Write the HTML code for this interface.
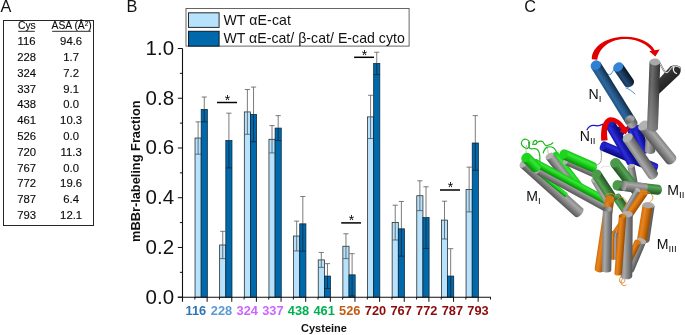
<!DOCTYPE html>
<html><head><meta charset="utf-8"><title>Figure</title>
<style>
html,body{margin:0;padding:0;background:#fff;}
body{width:685px;height:335px;overflow:hidden;}
svg{display:block;font-family:"Liberation Sans",sans-serif;}
</style></head><body>
<svg width="685" height="335" viewBox="0 0 685 335">
<rect width="685" height="335" fill="#fff"/>
<text transform="translate(0.4,12.2) scale(1,1)" font-size="16.3" fill="#111">A</text>
<rect x="3.5" y="20.5" width="90" height="205" fill="#fff" stroke="#262626" stroke-width="1"/>
<text x="26.9" y="29" font-size="10.3" fill="#0a0a0a" stroke="#0a0a0a" stroke-width="0.12" text-anchor="middle">Cys</text>
<line x1="18.2" y1="31.3" x2="34.8" y2="31.3" stroke="#111" stroke-width="0.9"/>
<text x="71.6" y="29" font-size="10.3" fill="#0a0a0a" stroke="#0a0a0a" stroke-width="0.12" text-anchor="middle">ASA (Å<tspan font-size="6.3" dy="-3.2">2</tspan><tspan dy="3.2">)</tspan></text>
<line x1="52.2" y1="31.3" x2="90.8" y2="31.3" stroke="#111" stroke-width="0.9"/>
<g transform="scale(1.1,1)">
<text x="24.18" y="45.1" font-size="10.3" fill="#0a0a0a" stroke="#0a0a0a" stroke-width="0.12" text-anchor="middle">116</text>
<text x="64.64" y="45.1" font-size="10.3" fill="#0a0a0a" stroke="#0a0a0a" stroke-width="0.12" text-anchor="middle">94.6</text>
<text x="24.18" y="60.9" font-size="10.3" fill="#0a0a0a" stroke="#0a0a0a" stroke-width="0.12" text-anchor="middle">228</text>
<text x="64.64" y="60.9" font-size="10.3" fill="#0a0a0a" stroke="#0a0a0a" stroke-width="0.12" text-anchor="middle">1.7</text>
<text x="24.18" y="76.7" font-size="10.3" fill="#0a0a0a" stroke="#0a0a0a" stroke-width="0.12" text-anchor="middle">324</text>
<text x="64.64" y="76.7" font-size="10.3" fill="#0a0a0a" stroke="#0a0a0a" stroke-width="0.12" text-anchor="middle">7.2</text>
<text x="24.18" y="92.6" font-size="10.3" fill="#0a0a0a" stroke="#0a0a0a" stroke-width="0.12" text-anchor="middle">337</text>
<text x="64.64" y="92.6" font-size="10.3" fill="#0a0a0a" stroke="#0a0a0a" stroke-width="0.12" text-anchor="middle">9.1</text>
<text x="24.18" y="108.4" font-size="10.3" fill="#0a0a0a" stroke="#0a0a0a" stroke-width="0.12" text-anchor="middle">438</text>
<text x="64.64" y="108.4" font-size="10.3" fill="#0a0a0a" stroke="#0a0a0a" stroke-width="0.12" text-anchor="middle">0.0</text>
<text x="24.18" y="124.2" font-size="10.3" fill="#0a0a0a" stroke="#0a0a0a" stroke-width="0.12" text-anchor="middle">461</text>
<text x="64.64" y="124.2" font-size="10.3" fill="#0a0a0a" stroke="#0a0a0a" stroke-width="0.12" text-anchor="middle">10.3</text>
<text x="24.18" y="140.0" font-size="10.3" fill="#0a0a0a" stroke="#0a0a0a" stroke-width="0.12" text-anchor="middle">526</text>
<text x="64.64" y="140.0" font-size="10.3" fill="#0a0a0a" stroke="#0a0a0a" stroke-width="0.12" text-anchor="middle">0.0</text>
<text x="24.18" y="155.8" font-size="10.3" fill="#0a0a0a" stroke="#0a0a0a" stroke-width="0.12" text-anchor="middle">720</text>
<text x="64.64" y="155.8" font-size="10.3" fill="#0a0a0a" stroke="#0a0a0a" stroke-width="0.12" text-anchor="middle">11.3</text>
<text x="24.18" y="171.7" font-size="10.3" fill="#0a0a0a" stroke="#0a0a0a" stroke-width="0.12" text-anchor="middle">767</text>
<text x="64.64" y="171.7" font-size="10.3" fill="#0a0a0a" stroke="#0a0a0a" stroke-width="0.12" text-anchor="middle">0.0</text>
<text x="24.18" y="187.5" font-size="10.3" fill="#0a0a0a" stroke="#0a0a0a" stroke-width="0.12" text-anchor="middle">772</text>
<text x="64.64" y="187.5" font-size="10.3" fill="#0a0a0a" stroke="#0a0a0a" stroke-width="0.12" text-anchor="middle">19.6</text>
<text x="24.18" y="203.3" font-size="10.3" fill="#0a0a0a" stroke="#0a0a0a" stroke-width="0.12" text-anchor="middle">787</text>
<text x="64.64" y="203.3" font-size="10.3" fill="#0a0a0a" stroke="#0a0a0a" stroke-width="0.12" text-anchor="middle">6.4</text>
<text x="24.18" y="219.1" font-size="10.3" fill="#0a0a0a" stroke="#0a0a0a" stroke-width="0.12" text-anchor="middle">793</text>
<text x="64.64" y="219.1" font-size="10.3" fill="#0a0a0a" stroke="#0a0a0a" stroke-width="0.12" text-anchor="middle">12.1</text>
</g>
<text transform="translate(126.6,12) scale(1,1)" font-size="16.3" fill="#111">B</text>
<rect x="195.02" y="138.03" width="6.16" height="159.17" fill="#b6e2fd" stroke="#222" stroke-width="0.75"/>
<path d="M198.10 121.87V138.03M195.50 121.87h5.2" stroke="#5a5a5a" stroke-width="0.8" fill="none"/>
<path d="M198.10 138.03V154.20M195.20 154.20h5.8" stroke="#4a4a4a" stroke-width="0.75" fill="none"/>
<rect x="201.18" y="109.43" width="6.16" height="187.77" fill="#0069ab" stroke="#0a2438" stroke-width="0.75"/>
<path d="M204.26 97.00V109.43M201.66 97.00h5.2" stroke="#5a5a5a" stroke-width="0.8" fill="none"/>
<path d="M204.26 109.43V121.87M201.36 121.87h5.8" stroke="#0a2438" stroke-width="0.75" fill="none"/>
<rect x="219.66" y="244.97" width="6.16" height="52.23" fill="#b6e2fd" stroke="#222" stroke-width="0.75"/>
<path d="M222.74 231.29V244.97M220.14 231.29h5.2" stroke="#5a5a5a" stroke-width="0.8" fill="none"/>
<path d="M222.74 244.97V258.65M219.84 258.65h5.8" stroke="#4a4a4a" stroke-width="0.75" fill="none"/>
<rect x="225.82" y="140.52" width="6.16" height="156.68" fill="#0069ab" stroke="#0a2438" stroke-width="0.75"/>
<path d="M228.90 113.16V140.52M226.30 113.16h5.2" stroke="#5a5a5a" stroke-width="0.8" fill="none"/>
<path d="M228.90 140.52V167.88M226.00 167.88h5.8" stroke="#0a2438" stroke-width="0.75" fill="none"/>
<rect x="244.30" y="111.92" width="6.16" height="185.28" fill="#b6e2fd" stroke="#222" stroke-width="0.75"/>
<path d="M247.38 89.54V111.92M244.78 89.54h5.2" stroke="#5a5a5a" stroke-width="0.8" fill="none"/>
<path d="M247.38 111.92V134.30M244.48 134.30h5.8" stroke="#4a4a4a" stroke-width="0.75" fill="none"/>
<rect x="250.46" y="114.41" width="6.16" height="182.79" fill="#0069ab" stroke="#0a2438" stroke-width="0.75"/>
<path d="M253.54 87.05V114.41M250.94 87.05h5.2" stroke="#5a5a5a" stroke-width="0.8" fill="none"/>
<path d="M253.54 114.41V141.76M250.64 141.76h5.8" stroke="#0a2438" stroke-width="0.75" fill="none"/>
<rect x="268.94" y="139.28" width="6.16" height="157.92" fill="#b6e2fd" stroke="#222" stroke-width="0.75"/>
<path d="M272.02 125.60V139.28M269.42 125.60h5.2" stroke="#5a5a5a" stroke-width="0.8" fill="none"/>
<path d="M272.02 139.28V152.95M269.12 152.95h5.8" stroke="#4a4a4a" stroke-width="0.75" fill="none"/>
<rect x="275.10" y="128.08" width="6.16" height="169.12" fill="#0069ab" stroke="#0a2438" stroke-width="0.75"/>
<path d="M278.18 115.65V128.08M275.58 115.65h5.2" stroke="#5a5a5a" stroke-width="0.8" fill="none"/>
<path d="M278.18 128.08V140.52M275.28 140.52h5.8" stroke="#0a2438" stroke-width="0.75" fill="none"/>
<rect x="293.58" y="236.02" width="6.16" height="61.18" fill="#b6e2fd" stroke="#222" stroke-width="0.75"/>
<path d="M296.66 221.10V236.02M294.06 221.10h5.2" stroke="#5a5a5a" stroke-width="0.8" fill="none"/>
<path d="M296.66 236.02V250.94M293.76 250.94h5.8" stroke="#4a4a4a" stroke-width="0.75" fill="none"/>
<rect x="299.74" y="223.83" width="6.16" height="73.37" fill="#0069ab" stroke="#0a2438" stroke-width="0.75"/>
<path d="M302.82 196.48V223.83M300.22 196.48h5.2" stroke="#5a5a5a" stroke-width="0.8" fill="none"/>
<path d="M302.82 223.83V251.19M299.92 251.19h5.8" stroke="#0a2438" stroke-width="0.75" fill="none"/>
<rect x="318.22" y="259.89" width="6.16" height="37.31" fill="#b6e2fd" stroke="#222" stroke-width="0.75"/>
<path d="M321.30 252.43V259.89M318.70 252.43h5.2" stroke="#5a5a5a" stroke-width="0.8" fill="none"/>
<path d="M321.30 259.89V267.36M318.40 267.36h5.8" stroke="#4a4a4a" stroke-width="0.75" fill="none"/>
<rect x="324.38" y="276.06" width="6.16" height="21.14" fill="#0069ab" stroke="#0a2438" stroke-width="0.75"/>
<path d="M327.46 263.63V276.06M324.86 263.63h5.2" stroke="#5a5a5a" stroke-width="0.8" fill="none"/>
<path d="M327.46 276.06V288.50M324.56 288.50h5.8" stroke="#0a2438" stroke-width="0.75" fill="none"/>
<rect x="342.86" y="246.22" width="6.16" height="50.98" fill="#b6e2fd" stroke="#222" stroke-width="0.75"/>
<path d="M345.94 233.78V246.22M343.34 233.78h5.2" stroke="#5a5a5a" stroke-width="0.8" fill="none"/>
<path d="M345.94 246.22V258.65M343.04 258.65h5.8" stroke="#4a4a4a" stroke-width="0.75" fill="none"/>
<rect x="349.02" y="274.82" width="6.16" height="22.38" fill="#0069ab" stroke="#0a2438" stroke-width="0.75"/>
<path d="M352.10 253.68V274.82M349.50 253.68h5.2" stroke="#5a5a5a" stroke-width="0.8" fill="none"/>
<path d="M352.10 274.82V295.96M349.20 295.96h5.8" stroke="#0a2438" stroke-width="0.75" fill="none"/>
<rect x="367.50" y="116.89" width="6.16" height="180.31" fill="#b6e2fd" stroke="#222" stroke-width="0.75"/>
<path d="M370.58 95.26V116.89M367.98 95.26h5.2" stroke="#5a5a5a" stroke-width="0.8" fill="none"/>
<path d="M370.58 116.89V138.53M367.68 138.53h5.8" stroke="#4a4a4a" stroke-width="0.75" fill="none"/>
<rect x="373.66" y="63.42" width="6.16" height="233.78" fill="#0069ab" stroke="#0a2438" stroke-width="0.75"/>
<path d="M376.74 52.23V63.42M374.14 52.23h5.2" stroke="#5a5a5a" stroke-width="0.8" fill="none"/>
<path d="M376.74 63.42V74.61M373.84 74.61h5.8" stroke="#0a2438" stroke-width="0.75" fill="none"/>
<rect x="392.14" y="222.59" width="6.16" height="74.61" fill="#b6e2fd" stroke="#222" stroke-width="0.75"/>
<path d="M395.22 205.18V222.59M392.62 205.18h5.2" stroke="#5a5a5a" stroke-width="0.8" fill="none"/>
<path d="M395.22 222.59V240.00M392.32 240.00h5.8" stroke="#4a4a4a" stroke-width="0.75" fill="none"/>
<rect x="398.30" y="228.81" width="6.16" height="68.39" fill="#0069ab" stroke="#0a2438" stroke-width="0.75"/>
<path d="M401.38 201.45V228.81M398.78 201.45h5.2" stroke="#5a5a5a" stroke-width="0.8" fill="none"/>
<path d="M401.38 228.81V256.16M398.48 256.16h5.8" stroke="#0a2438" stroke-width="0.75" fill="none"/>
<rect x="416.78" y="195.73" width="6.16" height="101.47" fill="#b6e2fd" stroke="#222" stroke-width="0.75"/>
<path d="M419.86 180.81V195.73M417.26 180.81h5.2" stroke="#5a5a5a" stroke-width="0.8" fill="none"/>
<path d="M419.86 195.73V210.65M416.96 210.65h5.8" stroke="#4a4a4a" stroke-width="0.75" fill="none"/>
<rect x="422.94" y="217.62" width="6.16" height="79.58" fill="#0069ab" stroke="#0a2438" stroke-width="0.75"/>
<path d="M426.02 186.78V217.62M423.42 186.78h5.2" stroke="#5a5a5a" stroke-width="0.8" fill="none"/>
<path d="M426.02 217.62V248.45M423.12 248.45h5.8" stroke="#0a2438" stroke-width="0.75" fill="none"/>
<rect x="441.42" y="220.10" width="6.16" height="77.10" fill="#b6e2fd" stroke="#222" stroke-width="0.75"/>
<path d="M444.50 201.20V220.10M441.90 201.20h5.2" stroke="#5a5a5a" stroke-width="0.8" fill="none"/>
<path d="M444.50 220.10V239.00M441.60 239.00h5.8" stroke="#4a4a4a" stroke-width="0.75" fill="none"/>
<rect x="447.58" y="276.06" width="6.16" height="21.14" fill="#0069ab" stroke="#0a2438" stroke-width="0.75"/>
<path d="M450.66 248.70V276.06M448.06 248.70h5.2" stroke="#5a5a5a" stroke-width="0.8" fill="none"/>
<path d="M450.66 276.06V297.20" stroke="#0a2438" stroke-width="0.75" fill="none"/>
<rect x="466.06" y="189.51" width="6.16" height="107.69" fill="#b6e2fd" stroke="#222" stroke-width="0.75"/>
<path d="M469.14 167.13V189.51M466.54 167.13h5.2" stroke="#5a5a5a" stroke-width="0.8" fill="none"/>
<path d="M469.14 189.51V211.90M466.24 211.90h5.8" stroke="#4a4a4a" stroke-width="0.75" fill="none"/>
<rect x="472.22" y="143.01" width="6.16" height="154.19" fill="#0069ab" stroke="#0a2438" stroke-width="0.75"/>
<path d="M475.30 115.65V143.01M472.70 115.65h5.2" stroke="#5a5a5a" stroke-width="0.8" fill="none"/>
<path d="M475.30 143.01V170.36M472.40 170.36h5.8" stroke="#0a2438" stroke-width="0.75" fill="none"/>
<path d="M182.5 48.5V301.7M177.8 297.2H491.0" stroke="#111" stroke-width="1.1" fill="none"/>
<line x1="194.82" y1="297.2" x2="194.82" y2="299.5" stroke="#111" stroke-width="1"/>
<line x1="207.14" y1="297.2" x2="207.14" y2="301.8" stroke="#111" stroke-width="1"/>
<line x1="219.46" y1="297.2" x2="219.46" y2="299.5" stroke="#111" stroke-width="1"/>
<line x1="231.78" y1="297.2" x2="231.78" y2="301.8" stroke="#111" stroke-width="1"/>
<line x1="244.10" y1="297.2" x2="244.10" y2="299.5" stroke="#111" stroke-width="1"/>
<line x1="256.42" y1="297.2" x2="256.42" y2="301.8" stroke="#111" stroke-width="1"/>
<line x1="268.74" y1="297.2" x2="268.74" y2="299.5" stroke="#111" stroke-width="1"/>
<line x1="281.06" y1="297.2" x2="281.06" y2="301.8" stroke="#111" stroke-width="1"/>
<line x1="293.38" y1="297.2" x2="293.38" y2="299.5" stroke="#111" stroke-width="1"/>
<line x1="305.70" y1="297.2" x2="305.70" y2="301.8" stroke="#111" stroke-width="1"/>
<line x1="318.02" y1="297.2" x2="318.02" y2="299.5" stroke="#111" stroke-width="1"/>
<line x1="330.34" y1="297.2" x2="330.34" y2="301.8" stroke="#111" stroke-width="1"/>
<line x1="342.66" y1="297.2" x2="342.66" y2="299.5" stroke="#111" stroke-width="1"/>
<line x1="354.98" y1="297.2" x2="354.98" y2="301.8" stroke="#111" stroke-width="1"/>
<line x1="367.30" y1="297.2" x2="367.30" y2="299.5" stroke="#111" stroke-width="1"/>
<line x1="379.62" y1="297.2" x2="379.62" y2="301.8" stroke="#111" stroke-width="1"/>
<line x1="391.94" y1="297.2" x2="391.94" y2="299.5" stroke="#111" stroke-width="1"/>
<line x1="404.26" y1="297.2" x2="404.26" y2="301.8" stroke="#111" stroke-width="1"/>
<line x1="416.58" y1="297.2" x2="416.58" y2="299.5" stroke="#111" stroke-width="1"/>
<line x1="428.90" y1="297.2" x2="428.90" y2="301.8" stroke="#111" stroke-width="1"/>
<line x1="441.22" y1="297.2" x2="441.22" y2="299.5" stroke="#111" stroke-width="1"/>
<line x1="453.54" y1="297.2" x2="453.54" y2="301.8" stroke="#111" stroke-width="1"/>
<line x1="465.86" y1="297.2" x2="465.86" y2="299.5" stroke="#111" stroke-width="1"/>
<line x1="478.18" y1="297.2" x2="478.18" y2="301.8" stroke="#111" stroke-width="1"/>
<line x1="490.50" y1="297.2" x2="490.50" y2="299.5" stroke="#111" stroke-width="1"/>
<line x1="177.8" y1="297.20" x2="182.5" y2="297.20" stroke="#111" stroke-width="1"/>
<text x="174.1" y="303.70" font-size="20.5" text-anchor="end" fill="#111">0.0</text>
<line x1="179.9" y1="272.33" x2="182.5" y2="272.33" stroke="#111" stroke-width="1"/>
<line x1="177.8" y1="247.46" x2="182.5" y2="247.46" stroke="#111" stroke-width="1"/>
<text x="174.1" y="253.96" font-size="20.5" text-anchor="end" fill="#111">0.2</text>
<line x1="179.9" y1="222.59" x2="182.5" y2="222.59" stroke="#111" stroke-width="1"/>
<line x1="177.8" y1="197.72" x2="182.5" y2="197.72" stroke="#111" stroke-width="1"/>
<text x="174.1" y="204.22" font-size="20.5" text-anchor="end" fill="#111">0.4</text>
<line x1="179.9" y1="172.85" x2="182.5" y2="172.85" stroke="#111" stroke-width="1"/>
<line x1="177.8" y1="147.98" x2="182.5" y2="147.98" stroke="#111" stroke-width="1"/>
<text x="174.1" y="154.48" font-size="20.5" text-anchor="end" fill="#111">0.6</text>
<line x1="179.9" y1="123.11" x2="182.5" y2="123.11" stroke="#111" stroke-width="1"/>
<line x1="177.8" y1="98.24" x2="182.5" y2="98.24" stroke="#111" stroke-width="1"/>
<text x="174.1" y="104.74" font-size="20.5" text-anchor="end" fill="#111">0.8</text>
<line x1="179.9" y1="73.37" x2="182.5" y2="73.37" stroke="#111" stroke-width="1"/>
<line x1="177.8" y1="48.50" x2="182.5" y2="48.50" stroke="#111" stroke-width="1"/>
<text x="174.1" y="55.00" font-size="20.5" text-anchor="end" fill="#111">1.0</text>
<text transform="translate(140.4,171.2) rotate(-90)" font-size="12.8" font-weight="bold" text-anchor="middle" fill="#111">mBBr-labeling Fraction</text>
<rect x="186" y="8.5" width="223.1" height="37.6" fill="#fff" stroke="#555" stroke-width="0.9"/>
<rect x="188.5" y="12.8" width="30.6" height="14.6" fill="#b6e2fd" stroke="#2a2a2a" stroke-width="1"/>
<rect x="188.5" y="31.3" width="30.6" height="14.8" fill="#0069ab" stroke="#0a1e30" stroke-width="1"/>
<text x="223.4" y="24.7" font-size="14.1" fill="#111" letter-spacing="0.12">WT αE-cat</text>
<text x="223.4" y="43" font-size="14.1" fill="#111" letter-spacing="0.035">WT αE-cat/ β-cat/ E-cad cyto</text>
<text x="195.90" y="315.3" font-size="12.8" font-weight="bold" text-anchor="middle" fill="#2e75b6">116</text>
<text x="221.55" y="315.3" font-size="12.8" font-weight="bold" text-anchor="middle" fill="#5b9bd5">228</text>
<text x="247.20" y="315.3" font-size="12.8" font-weight="bold" text-anchor="middle" fill="#cc66ff">324</text>
<text x="272.85" y="315.3" font-size="12.8" font-weight="bold" text-anchor="middle" fill="#cc66ff">337</text>
<text x="298.50" y="315.3" font-size="12.8" font-weight="bold" text-anchor="middle" fill="#00b050">438</text>
<text x="324.15" y="315.3" font-size="12.8" font-weight="bold" text-anchor="middle" fill="#00b050">461</text>
<text x="349.80" y="315.3" font-size="12.8" font-weight="bold" text-anchor="middle" fill="#c55a11">526</text>
<text x="375.45" y="315.3" font-size="12.8" font-weight="bold" text-anchor="middle" fill="#8b0a0a">720</text>
<text x="401.10" y="315.3" font-size="12.8" font-weight="bold" text-anchor="middle" fill="#8b0a0a">767</text>
<text x="426.75" y="315.3" font-size="12.8" font-weight="bold" text-anchor="middle" fill="#8b0a0a">772</text>
<text x="452.40" y="315.3" font-size="12.8" font-weight="bold" text-anchor="middle" fill="#8b0a0a">787</text>
<text x="478.05" y="315.3" font-size="12.8" font-weight="bold" text-anchor="middle" fill="#8b0a0a">793</text>
<text x="324" y="331.7" font-size="11" font-weight="bold" text-anchor="middle" fill="#111">Cysteine</text>
<line x1="217" y1="102.5" x2="237" y2="102.5" stroke="#000" stroke-width="1.5"/>
<text x="227.4" y="104.8" font-size="14" text-anchor="middle" fill="#000">*</text>
<line x1="354.1" y1="57.3" x2="374" y2="57.3" stroke="#000" stroke-width="1.5"/>
<text x="364.45" y="59.599999999999994" font-size="14" text-anchor="middle" fill="#000">*</text>
<line x1="341.2" y1="222.9" x2="361" y2="222.9" stroke="#000" stroke-width="1.5"/>
<text x="351.5" y="225.20000000000002" font-size="14" text-anchor="middle" fill="#000">*</text>
<line x1="440" y1="190" x2="460" y2="190" stroke="#000" stroke-width="1.5"/>
<text x="450.4" y="192.3" font-size="14" text-anchor="middle" fill="#000">*</text>
<text transform="translate(524.2,12.2) scale(1,1)" font-size="16.3" fill="#111">C</text>
<defs><linearGradient id="g1" gradientUnits="userSpaceOnUse" x1="631.09" y1="140.22" x2="639.41" y2="136.78"><stop offset="0" stop-color="#1515aa"/><stop offset="0.3" stop-color="#2e2ed8"/><stop offset="0.62" stop-color="#1515aa"/><stop offset="1" stop-color="#09096a"/></linearGradient><linearGradient id="g2" gradientUnits="userSpaceOnUse" x1="635.84" y1="141.32" x2="645.16" y2="137.68"><stop offset="0" stop-color="#1515aa"/><stop offset="0.3" stop-color="#2e2ed8"/><stop offset="0.62" stop-color="#1515aa"/><stop offset="1" stop-color="#09096a"/></linearGradient><linearGradient id="g3" gradientUnits="userSpaceOnUse" x1="645.26" y1="142.67" x2="655.74" y2="143.33"><stop offset="0" stop-color="#838383"/><stop offset="0.3" stop-color="#a8a8a8"/><stop offset="0.62" stop-color="#838383"/><stop offset="1" stop-color="#555555"/></linearGradient><linearGradient id="wedge" gradientUnits="userSpaceOnUse" x1="662" y1="70" x2="674" y2="84"><stop offset="0" stop-color="#444"/><stop offset="0.5" stop-color="#2e2e2e"/><stop offset="1" stop-color="#1e1e1e"/></linearGradient><linearGradient id="g4" gradientUnits="userSpaceOnUse" x1="619.14" y1="77.95" x2="628.06" y2="71.85"><stop offset="0" stop-color="#163250"/><stop offset="0.3" stop-color="#234a75"/><stop offset="0.62" stop-color="#163250"/><stop offset="1" stop-color="#081422"/></linearGradient><linearGradient id="g5" gradientUnits="userSpaceOnUse" x1="608.47" y1="95.75" x2="617.63" y2="90.05"><stop offset="0" stop-color="#22527f"/><stop offset="0.3" stop-color="#2e68a0"/><stop offset="0.62" stop-color="#22527f"/><stop offset="1" stop-color="#122c47"/></linearGradient><linearGradient id="g6" gradientUnits="userSpaceOnUse" x1="630.95" y1="152.40" x2="627.05" y2="161.60"><stop offset="0" stop-color="#1515aa"/><stop offset="0.3" stop-color="#2e2ed8"/><stop offset="0.62" stop-color="#1515aa"/><stop offset="1" stop-color="#09096a"/></linearGradient><linearGradient id="g7" gradientUnits="userSpaceOnUse" x1="616.46" y1="145.63" x2="625.54" y2="140.37"><stop offset="0" stop-color="#1515aa"/><stop offset="0.3" stop-color="#2e2ed8"/><stop offset="0.62" stop-color="#1515aa"/><stop offset="1" stop-color="#09096a"/></linearGradient><linearGradient id="g8" gradientUnits="userSpaceOnUse" x1="626.49" y1="124.67" x2="635.71" y2="119.03"><stop offset="0" stop-color="#838383"/><stop offset="0.3" stop-color="#a8a8a8"/><stop offset="0.62" stop-color="#838383"/><stop offset="1" stop-color="#555555"/></linearGradient><linearGradient id="g9" gradientUnits="userSpaceOnUse" x1="661.92" y1="138.73" x2="652.58" y2="146.27"><stop offset="0" stop-color="#838383"/><stop offset="0.3" stop-color="#a8a8a8"/><stop offset="0.62" stop-color="#838383"/><stop offset="1" stop-color="#555555"/></linearGradient><linearGradient id="g10" gradientUnits="userSpaceOnUse" x1="648.30" y1="94.80" x2="659.10" y2="95.20"><stop offset="0" stop-color="#515151"/><stop offset="0.3" stop-color="#6c6c6c"/><stop offset="0.62" stop-color="#515151"/><stop offset="1" stop-color="#333333"/></linearGradient><linearGradient id="g10f" gradientUnits="userSpaceOnUse" x1="654.9" y1="62.0" x2="652.5" y2="128.0"><stop offset="0.35" stop-color="#a0a0a0" stop-opacity="0"/><stop offset="1" stop-color="#a0a0a0" stop-opacity="0.55"/></linearGradient><linearGradient id="g11" gradientUnits="userSpaceOnUse" x1="635.80" y1="159.49" x2="644.90" y2="153.31"><stop offset="0" stop-color="#838383"/><stop offset="0.3" stop-color="#a8a8a8"/><stop offset="0.62" stop-color="#838383"/><stop offset="1" stop-color="#555555"/></linearGradient><linearGradient id="g12" gradientUnits="userSpaceOnUse" x1="555.35" y1="183.48" x2="547.65" y2="192.02"><stop offset="0" stop-color="#838383"/><stop offset="0.3" stop-color="#a8a8a8"/><stop offset="0.62" stop-color="#838383"/><stop offset="1" stop-color="#555555"/></linearGradient><linearGradient id="g13" gradientUnits="userSpaceOnUse" x1="552.42" y1="181.01" x2="549.58" y2="184.49"><stop offset="0" stop-color="#17c617"/><stop offset="0.3" stop-color="#36e836"/><stop offset="0.62" stop-color="#17c617"/><stop offset="1" stop-color="#0b860b"/></linearGradient><linearGradient id="g14" gradientUnits="userSpaceOnUse" x1="570.32" y1="168.26" x2="563.18" y2="173.74"><stop offset="0" stop-color="#17c617"/><stop offset="0.3" stop-color="#36e836"/><stop offset="0.62" stop-color="#17c617"/><stop offset="1" stop-color="#0b860b"/></linearGradient><linearGradient id="g15" gradientUnits="userSpaceOnUse" x1="564.33" y1="168.02" x2="557.17" y2="173.48"><stop offset="0" stop-color="#838383"/><stop offset="0.3" stop-color="#a8a8a8"/><stop offset="0.62" stop-color="#838383"/><stop offset="1" stop-color="#555555"/></linearGradient><linearGradient id="g16" gradientUnits="userSpaceOnUse" x1="573.41" y1="184.05" x2="569.09" y2="191.95"><stop offset="0" stop-color="#838383"/><stop offset="0.3" stop-color="#a8a8a8"/><stop offset="0.62" stop-color="#838383"/><stop offset="1" stop-color="#555555"/></linearGradient><linearGradient id="g17" gradientUnits="userSpaceOnUse" x1="572.29" y1="178.25" x2="568.71" y2="184.95"><stop offset="0" stop-color="#17c617"/><stop offset="0.3" stop-color="#36e836"/><stop offset="0.62" stop-color="#17c617"/><stop offset="1" stop-color="#0b860b"/></linearGradient><linearGradient id="g18" gradientUnits="userSpaceOnUse" x1="534.75" y1="158.75" x2="527.25" y2="166.25"><stop offset="0" stop-color="#17c617"/><stop offset="0.3" stop-color="#36e836"/><stop offset="0.62" stop-color="#17c617"/><stop offset="1" stop-color="#0b860b"/></linearGradient><linearGradient id="g19" gradientUnits="userSpaceOnUse" x1="581.33" y1="162.39" x2="577.67" y2="170.61"><stop offset="0" stop-color="#838383"/><stop offset="0.3" stop-color="#a8a8a8"/><stop offset="0.62" stop-color="#838383"/><stop offset="1" stop-color="#555555"/></linearGradient><linearGradient id="g20" gradientUnits="userSpaceOnUse" x1="580.27" y1="156.12" x2="576.23" y2="165.28"><stop offset="0" stop-color="#17c617"/><stop offset="0.3" stop-color="#36e836"/><stop offset="0.62" stop-color="#17c617"/><stop offset="1" stop-color="#0b860b"/></linearGradient><linearGradient id="g21" gradientUnits="userSpaceOnUse" x1="629.06" y1="174.65" x2="635.94" y2="173.35"><stop offset="0" stop-color="#838383"/><stop offset="0.3" stop-color="#a8a8a8"/><stop offset="0.62" stop-color="#838383"/><stop offset="1" stop-color="#555555"/></linearGradient><linearGradient id="g22" gradientUnits="userSpaceOnUse" x1="629.66" y1="173.19" x2="621.34" y2="179.61"><stop offset="0" stop-color="#3a7f3a"/><stop offset="0.3" stop-color="#58a458"/><stop offset="0.62" stop-color="#3a7f3a"/><stop offset="1" stop-color="#215221"/></linearGradient><linearGradient id="g23" gradientUnits="userSpaceOnUse" x1="637.80" y1="182.53" x2="636.70" y2="192.47"><stop offset="0" stop-color="#3a7f3a"/><stop offset="0.3" stop-color="#58a458"/><stop offset="0.62" stop-color="#3a7f3a"/><stop offset="1" stop-color="#215221"/></linearGradient><linearGradient id="g24" gradientUnits="userSpaceOnUse" x1="635.07" y1="182.03" x2="633.93" y2="191.97"><stop offset="0" stop-color="#838383"/><stop offset="0.3" stop-color="#a8a8a8"/><stop offset="0.62" stop-color="#838383"/><stop offset="1" stop-color="#555555"/></linearGradient><linearGradient id="g25" gradientUnits="userSpaceOnUse" x1="598.15" y1="192.90" x2="606.35" y2="188.10"><stop offset="0" stop-color="#838383"/><stop offset="0.3" stop-color="#a8a8a8"/><stop offset="0.62" stop-color="#838383"/><stop offset="1" stop-color="#555555"/></linearGradient><linearGradient id="g26" gradientUnits="userSpaceOnUse" x1="599.46" y1="187.98" x2="607.84" y2="182.52"><stop offset="0" stop-color="#3a7f3a"/><stop offset="0.3" stop-color="#58a458"/><stop offset="0.62" stop-color="#3a7f3a"/><stop offset="1" stop-color="#215221"/></linearGradient><linearGradient id="g27" gradientUnits="userSpaceOnUse" x1="617.84" y1="206.62" x2="625.16" y2="201.38"><stop offset="0" stop-color="#3a7f3a"/><stop offset="0.3" stop-color="#58a458"/><stop offset="0.62" stop-color="#3a7f3a"/><stop offset="1" stop-color="#215221"/></linearGradient><linearGradient id="g28" gradientUnits="userSpaceOnUse" x1="628.92" y1="199.47" x2="634.08" y2="202.53"><stop offset="0" stop-color="#838383"/><stop offset="0.3" stop-color="#a8a8a8"/><stop offset="0.62" stop-color="#838383"/><stop offset="1" stop-color="#555555"/></linearGradient><linearGradient id="g29" gradientUnits="userSpaceOnUse" x1="626.35" y1="211.39" x2="632.95" y2="215.91"><stop offset="0" stop-color="#cd6d0c"/><stop offset="0.3" stop-color="#e8851f"/><stop offset="0.62" stop-color="#cd6d0c"/><stop offset="1" stop-color="#8f4a05"/></linearGradient><linearGradient id="g30" gradientUnits="userSpaceOnUse" x1="641.16" y1="221.79" x2="652.04" y2="223.41"><stop offset="0" stop-color="#838383"/><stop offset="0.3" stop-color="#a8a8a8"/><stop offset="0.62" stop-color="#838383"/><stop offset="1" stop-color="#555555"/></linearGradient><linearGradient id="g31" gradientUnits="userSpaceOnUse" x1="639.86" y1="221.90" x2="649.74" y2="223.50"><stop offset="0" stop-color="#cd6d0c"/><stop offset="0.3" stop-color="#e8851f"/><stop offset="0.62" stop-color="#cd6d0c"/><stop offset="1" stop-color="#8f4a05"/></linearGradient><linearGradient id="g32" gradientUnits="userSpaceOnUse" x1="631.12" y1="253.41" x2="639.88" y2="257.09"><stop offset="0" stop-color="#838383"/><stop offset="0.3" stop-color="#a8a8a8"/><stop offset="0.62" stop-color="#838383"/><stop offset="1" stop-color="#555555"/></linearGradient><linearGradient id="g33" gradientUnits="userSpaceOnUse" x1="629.85" y1="250.50" x2="635.95" y2="253.50"><stop offset="0" stop-color="#cd6d0c"/><stop offset="0.3" stop-color="#e8851f"/><stop offset="0.62" stop-color="#cd6d0c"/><stop offset="1" stop-color="#8f4a05"/></linearGradient><linearGradient id="g34" gradientUnits="userSpaceOnUse" x1="611.20" y1="245.48" x2="614.40" y2="245.52"><stop offset="0" stop-color="#cd6d0c"/><stop offset="0.3" stop-color="#e8851f"/><stop offset="0.62" stop-color="#cd6d0c"/><stop offset="1" stop-color="#8f4a05"/></linearGradient><linearGradient id="g35" gradientUnits="userSpaceOnUse" x1="614.20" y1="245.48" x2="617.40" y2="245.52"><stop offset="0" stop-color="#838383"/><stop offset="0.3" stop-color="#a8a8a8"/><stop offset="0.62" stop-color="#838383"/><stop offset="1" stop-color="#555555"/></linearGradient><linearGradient id="g36" gradientUnits="userSpaceOnUse" x1="600.05" y1="233.32" x2="608.95" y2="234.68"><stop offset="0" stop-color="#cd6d0c"/><stop offset="0.3" stop-color="#e8851f"/><stop offset="0.62" stop-color="#cd6d0c"/><stop offset="1" stop-color="#8f4a05"/></linearGradient><linearGradient id="g37" gradientUnits="userSpaceOnUse" x1="602.30" y1="239.31" x2="611.80" y2="239.49"><stop offset="0" stop-color="#838383"/><stop offset="0.3" stop-color="#a8a8a8"/><stop offset="0.62" stop-color="#838383"/><stop offset="1" stop-color="#555555"/></linearGradient><linearGradient id="g38" gradientUnits="userSpaceOnUse" x1="621.00" y1="245.15" x2="632.50" y2="245.25"><stop offset="0" stop-color="#838383"/><stop offset="0.3" stop-color="#a8a8a8"/><stop offset="0.62" stop-color="#838383"/><stop offset="1" stop-color="#555555"/></linearGradient><linearGradient id="g39" gradientUnits="userSpaceOnUse" x1="616.66" y1="244.46" x2="624.14" y2="245.04"><stop offset="0" stop-color="#cd6d0c"/><stop offset="0.3" stop-color="#e8851f"/><stop offset="0.62" stop-color="#cd6d0c"/><stop offset="1" stop-color="#8f4a05"/></linearGradient></defs>
<path d="M626.34 128.72L635.84 151.72A4.50 2.48 157.6 0 0 644.16 148.28L634.66 125.28Z" fill="url(#g1)"/>
<ellipse cx="630.50" cy="127.00" rx="4.50" ry="2.48" transform="rotate(157.6 630.50 127.00)" fill="url(#g1)"/>
<path d="M631.34 129.82L640.34 152.82A5.00 2.75 158.6 0 0 649.66 149.18L640.66 126.18Z" fill="url(#g2)"/>
<ellipse cx="636.00" cy="128.00" rx="5.00" ry="2.75" transform="rotate(158.6 636.00 128.00)" fill="#2020c4"/>
<path d="M645.76 134.67L644.76 150.67A5.25 2.89 183.6 0 0 655.24 151.33L656.24 135.33Z" fill="url(#g3)"/>
<ellipse cx="651.00" cy="135.00" rx="5.25" ry="2.89" transform="rotate(183.6 651.00 135.00)" fill="url(#g3)"/>
<path d="M658.5 79.5L670.5 66.3C673.5 64.8 678 65.5 680.3 67.8C681.3 70.5 680.5 73 679 75L658.8 94Z" fill="url(#wedge)"/>
<path d="M613.74 70.05L624.54 85.85A5.40 4.32 145.6 0 0 633.46 79.75L622.66 63.95Z" fill="url(#g4)"/>
<ellipse cx="618.20" cy="67.00" rx="5.40" ry="4.32" transform="rotate(145.6 618.20 67.00)" fill="#3585d6"/>
<path d="M626 88C629 89 632 91 635 94" fill="none" stroke="#3a86d4" stroke-width="0.9" stroke-linecap="round" stroke-linejoin="round"/>
<path d="M601 66C606 70 607 77 611 74C613 72 614 68 616 66" fill="none" stroke="#3a86d4" stroke-width="0.9" stroke-linecap="round" stroke-linejoin="round"/>
<path d="M591.22 68.05L625.72 123.45A5.40 4.59 148.1 0 0 634.88 117.75L600.38 62.35Z" fill="url(#g5)"/>
<ellipse cx="595.80" cy="65.20" rx="5.40" ry="4.59" transform="rotate(148.1 595.80 65.20)" fill="#2f7fd2"/>
<path d="M587 129.8C588.5 126.5 592 124.8 596 125.6C598.5 126.2 600.5 125.4 602.5 124.2C603.5 125.5 603 127.5 604 129" fill="none" stroke="#1a1ac8" stroke-width="1.25" stroke-linecap="round" stroke-linejoin="round"/>
<path d="M604.95 141.40L656.95 163.40A5.00 2.75 112.9 0 1 653.05 172.60L601.05 150.60Z" fill="url(#g6)"/>
<ellipse cx="603.00" cy="146.00" rx="5.00" ry="2.75" transform="rotate(112.9 603.00 146.00)" fill="#2020c4"/>
<ellipse cx="620" cy="131.5" rx="4.6" ry="5.2" fill="#1414a4"/>
<path d="M605.46 126.63L627.46 164.63A5.25 2.89 149.9 0 0 636.54 159.37L614.54 121.37Z" fill="url(#g7)"/>
<ellipse cx="610.00" cy="124.00" rx="5.25" ry="2.89" transform="rotate(149.9 610.00 124.00)" fill="#2020c4"/>
<path d="M624.99 122.22L627.99 127.12A5.40 3.78 148.5 0 0 637.21 121.48L634.21 116.58Z" fill="url(#g8)"/>
<ellipse cx="629.60" cy="119.40" rx="5.40" ry="3.78" transform="rotate(148.5 629.60 119.40)" fill="url(#g8)"/>
<path d="M648.17 121.73L675.67 155.73A6.00 4.20 141.0 0 1 666.33 163.27L638.83 129.27Z" fill="url(#g9)"/>
<ellipse cx="643.50" cy="125.50" rx="6.00" ry="4.20" transform="rotate(141.0 643.50 125.50)" fill="#b2b2b2"/>
<path d="M649.50 61.80L647.10 127.80A5.40 3.51 182.1 0 0 657.90 128.20L660.30 62.20Z" fill="url(#g10)"/>
<path d="M649.50 61.80L647.10 127.80A5.40 3.51 182.1 0 0 657.90 128.20L660.30 62.20Z" fill="url(#g10f)"/>
<ellipse cx="654.90" cy="62.00" rx="5.40" ry="3.51" transform="rotate(182.1 654.90 62.00)" fill="#a8a8a8"/>
<path d="M660 63.5C662 66 663 71 666 72.5C669 73.5 670 68 673 66.5C676 65.5 679 66.5 680 68" fill="none" stroke="#555" stroke-width="1.6" stroke-linecap="round" stroke-linejoin="round"/>
<path d="M660 63.5C662 66 663 71 666 72.5C669 73.5 670 68 673 66.5C676 65.5 679 66.5 680 68" fill="none" stroke="#f0f0f0" stroke-width="0.9" stroke-linecap="round" stroke-linejoin="round"/>
<path d="M674 67C672.5 69 673.5 72.5 676.5 73.5" fill="none" stroke="#eee" stroke-width="1.3" stroke-linecap="round" stroke-linejoin="round"/>
<path d="M623.15 140.89L648.45 178.09A5.50 3.85 145.8 0 0 657.55 171.91L632.25 134.71Z" fill="url(#g11)"/>
<ellipse cx="627.70" cy="137.80" rx="5.50" ry="3.85" transform="rotate(145.8 627.70 137.80)" fill="#b2b2b2"/>
<path d="M521.3 143.6C521.5 140 524 138.8 526.2 139.3C529 140 530.2 142.5 529.4 145C528.8 147.5 527.5 149.2 526.5 148.5C524 147.5 521.8 146 521.3 143.6" fill="none" stroke="#14b814" stroke-width="1.15" stroke-linecap="round" stroke-linejoin="round"/>
<path d="M528.6 142.2C528.4 145 528.6 148 530.5 148.8C532.5 149.3 534.5 148 536.5 149C538.5 150 539.6 153 539.8 156C540 158.5 540 160 539.7 161.5" fill="none" stroke="#14b814" stroke-width="1.15" stroke-linecap="round" stroke-linejoin="round"/>
<path d="M533 143.5C533 141 535.5 139.6 536.6 141C537.6 142.6 536.5 144.6 534.6 144.4C533.6 144.3 533 144 532.6 144.4" fill="none" stroke="#14b814" stroke-width="1.15" stroke-linecap="round" stroke-linejoin="round"/>
<path d="M537.5 142.4C539 141.2 541 140.8 542.4 141.6C544 142.6 544.2 145 546 145.6C547.8 146 549.5 144.8 550.8 144.2C551.6 143.8 552.3 143.2 552.8 142.8" fill="none" stroke="#14b814" stroke-width="1.15" stroke-linecap="round" stroke-linejoin="round"/>
<path d="M543.2 153C544 150.5 545 148.2 546.8 147.4C548.8 146.6 551.5 146.6 553.4 147.8C555.5 149.2 556.6 152 557.2 154.5C557.5 155.8 557.8 157 558.2 158" fill="none" stroke="#14b814" stroke-width="1.15" stroke-linecap="round" stroke-linejoin="round"/>
<path d="M526.5 145.5C526.2 148 526 151 526 153.5M528.8 143C528.6 144.5 528.3 146 528.1 147M547.5 148.5C547.8 151 548.3 153.5 548.6 155" fill="none" stroke="#aaa" stroke-width="0.7" stroke-linecap="round" stroke-linejoin="round"/>
<path d="M527.85 158.73L582.85 208.23A5.75 3.16 132.0 0 1 575.15 216.77L520.15 167.27Z" fill="url(#g12)"/>
<ellipse cx="524.00" cy="163.00" rx="5.75" ry="3.16" transform="rotate(132.0 524.00 163.00)" fill="#b2b2b2"/>
<path d="M537.42 168.76L567.42 193.26A2.25 1.24 129.2 0 1 564.58 196.74L534.58 172.24Z" fill="url(#g13)"/>
<ellipse cx="536.00" cy="170.50" rx="2.25" ry="1.24" transform="rotate(129.2 536.00 170.50)" fill="url(#g13)"/>
<path d="M558.07 152.26L582.57 184.26A4.50 2.48 142.6 0 1 575.43 189.74L550.93 157.74Z" fill="url(#g14)"/>
<ellipse cx="554.50" cy="155.00" rx="4.50" ry="2.48" transform="rotate(142.6 554.50 155.00)" fill="#1fd41f"/>
<path d="M553.08 153.27L575.58 182.77A4.50 2.48 142.7 0 1 568.42 188.23L545.92 158.73Z" fill="url(#g15)"/>
<ellipse cx="549.50" cy="156.00" rx="4.50" ry="2.48" transform="rotate(142.7 549.50 156.00)" fill="#b2b2b2"/>
<path d="M539.66 165.55L607.16 202.55A4.50 2.48 118.7 0 1 602.84 210.45L535.34 173.45Z" fill="url(#g16)"/>
<ellipse cx="537.50" cy="169.50" rx="4.50" ry="2.48" transform="rotate(118.7 537.50 169.50)" fill="#b2b2b2"/>
<path d="M536.79 159.25L607.79 197.25A3.80 2.09 118.2 0 1 604.21 203.95L533.21 165.95Z" fill="url(#g17)"/>
<ellipse cx="535.00" cy="162.60" rx="3.80" ry="2.09" transform="rotate(118.2 535.00 162.60)" fill="url(#g17)"/>
<path d="M529.75 153.75L539.75 163.75A5.30 4.24 135.0 0 1 532.25 171.25L522.25 161.25Z" fill="url(#g18)"/>
<ellipse cx="526.00" cy="157.50" rx="5.30" ry="4.24" transform="rotate(135.0 526.00 157.50)" fill="#1fd41f"/>
<path d="M567.83 156.39L594.83 168.39A4.50 2.48 114.0 0 1 591.17 176.61L564.17 164.61Z" fill="url(#g19)"/>
<ellipse cx="566.00" cy="160.50" rx="4.50" ry="2.48" transform="rotate(114.0 566.00 160.50)" fill="#b2b2b2"/>
<path d="M565.52 149.62L595.02 162.62A5.00 4.00 113.8 0 1 590.98 171.78L561.48 158.78Z" fill="url(#g20)"/>
<ellipse cx="563.50" cy="154.20" rx="5.00" ry="4.00" transform="rotate(113.8 563.50 154.20)" fill="#1fd41f"/>
<path d="M601 150C601.5 156 602 160 600 163C598 165 596 165 595 166" fill="none" stroke="#999" stroke-width="0.9" stroke-linecap="round" stroke-linejoin="round"/>
<path d="M627.56 166.65L630.56 182.65A3.50 1.93 169.4 0 0 637.44 181.35L634.44 165.35Z" fill="url(#g21)"/>
<ellipse cx="631.00" cy="166.00" rx="3.50" ry="1.93" transform="rotate(169.4 631.00 166.00)" fill="#b2b2b2"/>
<path d="M619.16 159.59L640.16 186.79A5.25 4.46 142.3 0 1 631.84 193.21L610.84 166.01Z" fill="url(#g22)"/>
<ellipse cx="615.00" cy="162.80" rx="5.25" ry="4.46" transform="rotate(142.3 615.00 162.80)" fill="#4a9a4a"/>
<path d="M617.05 180.23L658.55 184.83A5.00 4.00 96.3 0 1 657.45 194.77L615.95 190.17Z" fill="url(#g23)"/>
<ellipse cx="616.50" cy="185.20" rx="5.00" ry="4.00" transform="rotate(96.3 616.50 185.20)" fill="#4a9a4a"/>
<path d="M624.57 180.83L645.57 183.23A5.00 2.75 96.5 0 1 644.43 193.17L623.43 190.77Z" fill="url(#g24)"/>
<ellipse cx="624.00" cy="185.80" rx="5.00" ry="2.75" transform="rotate(96.5 624.00 185.80)" fill="url(#g24)"/>
<path d="M591.40 181.40L604.90 204.40A4.75 2.61 149.6 0 0 613.10 199.60L599.60 176.60Z" fill="url(#g25)"/>
<ellipse cx="595.50" cy="179.00" rx="4.75" ry="2.61" transform="rotate(149.6 595.50 179.00)" fill="#b2b2b2"/>
<path d="M592.11 176.73L606.81 199.23A5.00 4.25 146.8 0 0 615.19 193.77L600.49 171.27Z" fill="url(#g26)"/>
<ellipse cx="596.30" cy="174.00" rx="5.00" ry="4.25" transform="rotate(146.8 596.30 174.00)" fill="#4a9a4a"/>
<path d="M601 168C604 164 607 168 610 166" fill="none" stroke="#ddd" stroke-width="0.9" stroke-linecap="round" stroke-linejoin="round"/>
<path d="M612.84 199.62L622.84 213.62A4.50 2.48 144.5 0 0 630.16 208.38L620.16 194.38Z" fill="url(#g27)"/>
<ellipse cx="616.50" cy="197.00" rx="4.50" ry="2.48" transform="rotate(144.5 616.50 197.00)" fill="url(#g27)"/>
<path d="M635.42 188.47L622.42 210.47A3.00 1.65 210.6 0 0 627.58 213.53L640.58 191.53Z" fill="url(#g28)"/>
<ellipse cx="638.00" cy="190.00" rx="3.00" ry="1.65" transform="rotate(210.6 638.00 190.00)" fill="#b2b2b2"/>
<path d="M641.00 190.04L611.70 232.74A4.00 2.20 214.5 0 0 618.30 237.26L647.60 194.56Z" fill="url(#g29)"/>
<ellipse cx="644.30" cy="192.30" rx="4.00" ry="2.20" transform="rotate(214.5 644.30 192.30)" fill="#d87812"/>
<path d="M643.76 204.39L638.56 239.19A5.50 3.03 188.5 0 0 649.44 240.81L654.64 206.01Z" fill="url(#g30)"/>
<ellipse cx="649.20" cy="205.20" rx="5.50" ry="3.03" transform="rotate(188.5 649.20 205.20)" fill="#b2b2b2"/>
<path d="M642.66 204.60L637.06 239.20A5.00 2.75 189.2 0 0 646.94 240.80L652.54 206.20Z" fill="url(#g31)"/>
<ellipse cx="647.60" cy="205.40" rx="5.00" ry="2.75" transform="rotate(189.2 647.60 205.40)" fill="#a9a9a9"/>
<path d="M637.12 239.16L625.12 267.66A4.75 2.61 202.8 0 0 633.88 271.34L645.88 242.84Z" fill="url(#g32)"/>
<ellipse cx="641.50" cy="241.00" rx="4.75" ry="2.61" transform="rotate(202.8 641.50 241.00)" fill="#b2b2b2"/>
<path d="M634.75 240.50L624.95 260.50A3.40 1.87 206.1 0 0 631.05 263.50L640.85 243.50Z" fill="url(#g33)"/>
<ellipse cx="637.80" cy="242.00" rx="3.40" ry="1.87" transform="rotate(206.1 637.80 242.00)" fill="#d87812"/>
<path d="M611.40 231.98L611.00 258.98A1.60 0.88 180.8 0 0 614.20 259.02L614.60 232.02Z" fill="url(#g34)"/>
<ellipse cx="613.00" cy="232.00" rx="1.60" ry="0.88" transform="rotate(180.8 613.00 232.00)" fill="url(#g34)"/>
<path d="M614.40 231.98L614.00 258.98A1.60 0.88 180.8 0 0 617.20 259.02L617.60 232.02Z" fill="url(#g35)"/>
<ellipse cx="616.00" cy="232.00" rx="1.60" ry="0.88" transform="rotate(180.8 616.00 232.00)" fill="url(#g35)"/>
<path d="M605.35 198.52L594.75 268.12A4.50 3.60 188.7 0 0 603.65 269.48L614.25 199.88Z" fill="url(#g36)"/>
<ellipse cx="609.80" cy="199.20" rx="4.50" ry="3.60" transform="rotate(188.7 609.80 199.20)" fill="#d87812"/>
<path d="M602.85 208.91L601.75 269.71A4.75 2.61 181.0 0 0 611.25 269.89L612.35 209.09Z" fill="url(#g37)"/>
<ellipse cx="607.60" cy="209.00" rx="4.75" ry="2.61" transform="rotate(181.0 607.60 209.00)" fill="url(#g37)"/>
<path d="M621.25 214.15L620.75 276.15A5.75 3.16 180.5 0 0 632.25 276.25L632.75 214.25Z" fill="url(#g38)"/>
<ellipse cx="627.00" cy="214.20" rx="5.75" ry="3.16" transform="rotate(180.5 627.00 214.20)" fill="#b2b2b2"/>
<path d="M618.86 215.71L614.46 273.21A3.75 2.06 184.4 0 0 621.94 273.79L626.34 216.29Z" fill="url(#g39)"/>
<ellipse cx="622.60" cy="216.00" rx="3.75" ry="2.06" transform="rotate(184.4 622.60 216.00)" fill="url(#g39)"/>
<path d="M604 197C606 193 612 192 616 196M618 199C620 196 624 197 626 201C627 204 625 207 623 209M640 192C643 190 649 191 652 195C654 198 652 201 650 202" fill="none" stroke="#e08820" stroke-width="0.9" stroke-linecap="round" stroke-linejoin="round"/>
<path d="M621.5 276C619.5 278.5 618.5 281 620.5 282.5C623 284 625.5 282 624.5 279.5C623.5 277.5 620.5 279.5 621 282.5C621.5 285.5 624 286.5 626 285" fill="none" stroke="#d87a14" stroke-width="0.9" stroke-linecap="round" stroke-linejoin="round"/>
<path d="M623 277.5C625 279 625.5 281 624 283" fill="none" stroke="#ccc" stroke-width="0.8" stroke-linecap="round" stroke-linejoin="round"/>
<path d="M591.8 59.2C591.6 46.5 607 36.5 625.5 36.8C639 37.1 650.5 42 654.6 50.2L659.7 49.5L655.4 56.6L649.3 51.2L651.8 50.7C647.5 45 638.5 39.8 627.5 39.1C612.5 38.6 599.5 46 597.3 59.8Z" fill="#e00000"/>
<path d="M601.2 140.8C600.8 132 601.4 126.5 603.4 123C605.2 119.2 608 117.2 610.8 117.2C615.5 117.2 621.2 120.5 625.2 126.8L629.5 127.8L625.8 134.2L619.3 131.6L621.5 130.4C619.5 126.5 616 122.3 612 121.7C609.6 121.7 608 124 607.4 128C606.8 132 607 136 607.7 140.2Z" fill="#e60000"/>
<text x="588.6" y="98.5" font-size="14.1" fill="#111">N<tspan font-size="9.8" dy="3.2">I</tspan></text>
<text x="579.8" y="140.8" font-size="14.1" fill="#111">N<tspan font-size="9.8" dy="3.2">II</tspan></text>
<text x="526.3" y="200.6" font-size="14.1" fill="#111">M<tspan font-size="9.8" dy="3.2">I</tspan></text>
<text x="667.3" y="194.8" font-size="14.1" fill="#111">M<tspan font-size="9.8" dy="3.2">II</tspan></text>
<text x="656.8" y="249.2" font-size="14.1" fill="#111">M<tspan font-size="9.8" dy="3.2">III</tspan></text>
</svg>
</body></html>
